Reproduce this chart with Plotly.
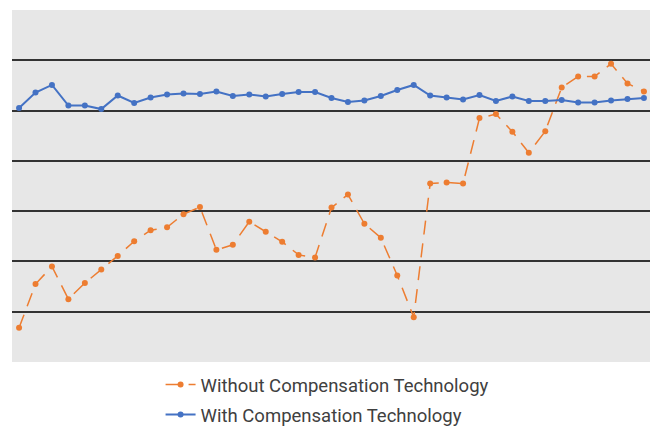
import plotly.graph_objects as go

points = list(range(39))

without_comp = [6.8, 15.5, 19.0, 12.5, 15.7, 18.4, 21.1, 24.0, 26.2, 26.8,
                29.4, 30.8, 22.3, 23.3, 27.9, 25.9, 23.9, 21.3, 20.8, 30.7,
                33.3, 27.5, 24.7, 17.2, 8.9, 35.5, 35.7, 35.5, 48.5, 49.3,
                45.8, 41.6, 45.9, 54.6, 56.8, 56.8, 59.3, 55.4, 53.8]

with_comp = [50.5, 53.6, 55.1, 51.0, 51.0, 50.3, 53.0, 51.5, 52.6, 53.2,
             53.4, 53.3, 53.8, 52.9, 53.2, 52.8, 53.3, 53.7, 53.7, 52.5,
             51.7, 52.0, 52.9, 54.1, 55.1, 53.0, 52.6, 52.2, 53.1, 51.9,
             52.8, 51.9, 51.9, 52.1, 51.6, 51.6, 52.0, 52.3, 52.5]

grid_vals = [10, 20, 30, 40, 50, 60]

fig = go.Figure()
fig.add_trace(go.Scatter(
    x=points, y=without_comp, mode="lines+markers",
    name="Without Compensation Technology", legendgroup="a",
    line=dict(color="#ED7D31", width=1.5, dash="14px,9px"),
    marker=dict(color="#ED7D31", size=6),
))
fig.add_trace(go.Scatter(
    x=points, y=with_comp, mode="lines+markers",
    name="With Compensation Technology", legendgroup="b",
    line=dict(color="#4472C4", width=2),
    marker=dict(color="#4472C4", size=6),
))

fig.update_layout(
    width=650, height=420,
    margin=dict(l=4, r=7, t=2, b=66, autoexpand=False),
    paper_bgcolor="white",
    plot_bgcolor="#E7E7E7",
    font=dict(family="Roboto", color="#404040"),
    showlegend=True,
    legend=dict(
        orientation="v", x=0.2325, xanchor="left", y=-0.011, yanchor="top",
        font=dict(family="Roboto", size=18.5, color="#404040"),
        bgcolor="rgba(0,0,0,0)", tracegroupgap=3, traceorder="grouped",
        itemwidth=30,
    ),
    xaxis=dict(range=[-0.43, 38.43], showgrid=False, zeroline=False,
               showticklabels=False, ticks="", showline=False),
    yaxis=dict(range=[0, 70], tickvals=grid_vals, showgrid=True,
               gridcolor="#333333", gridwidth=1.5, zeroline=False,
               showticklabels=False, ticks="", showline=False),
)

fig.write_html("out.html")
